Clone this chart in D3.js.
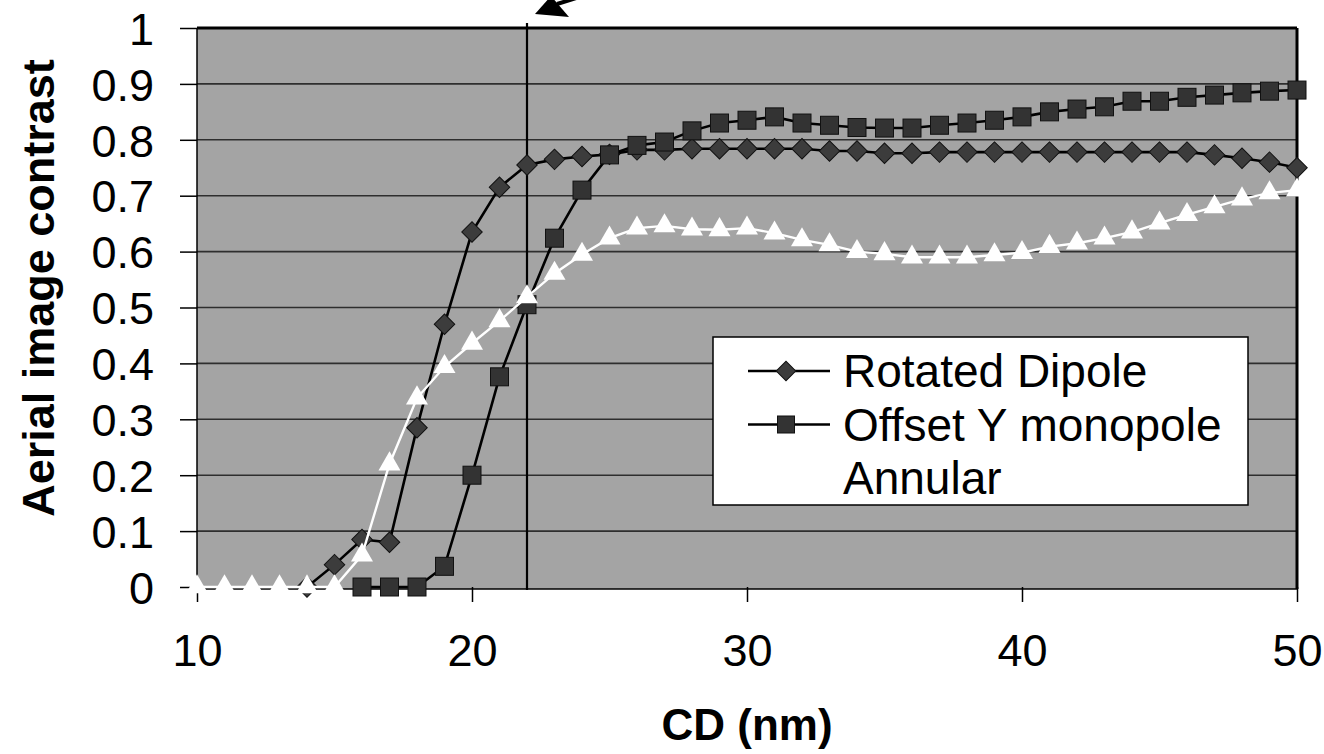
<!DOCTYPE html>
<html>
<head>
<meta charset="utf-8">
<script src="https://cdn.jsdelivr.net/npm/d3@7"></script>
<style>
  html, body { margin: 0; padding: 0; background: #fff; }
  svg { display: block; font-family: Arial, "Liberation Sans", sans-serif; }
</style>
</head>
<body>
<svg id="chart" width="1324" height="754"></svg>
<script>
// Aerial image contrast vs CD for three illumination schemes.
var dipoleX = d3.range(14, 51);
var dipole = [0, 0.04, 0.085, 0.08, 0.285, 0.47, 0.635, 0.715, 0.755, 0.765, 0.77, 0.774,
  0.782, 0.782, 0.784, 0.784, 0.784, 0.784, 0.784, 0.78, 0.78, 0.776, 0.776, 0.778,
  0.778, 0.778, 0.778, 0.778, 0.778, 0.778, 0.778, 0.778, 0.778, 0.773, 0.767, 0.76, 0.75];

var monoX = d3.range(16, 51);
var monopole = [0, 0, 0, 0.037, 0.2, 0.376, 0.505, 0.624, 0.71, 0.773, 0.79, 0.796,
  0.816, 0.83, 0.835, 0.841, 0.83, 0.826, 0.822, 0.821, 0.821, 0.826, 0.83, 0.835,
  0.841, 0.85, 0.855, 0.859, 0.869, 0.869, 0.876, 0.88, 0.884, 0.887, 0.889];

var annX = d3.range(10, 51);
var annular = [0, 0, 0, 0, 0, 0, 0.057, 0.22, 0.338, 0.394, 0.436, 0.476, 0.519, 0.561,
  0.595, 0.624, 0.642, 0.646, 0.64, 0.639, 0.642, 0.633, 0.621, 0.612, 0.6, 0.596,
  0.59, 0.59, 0.59, 0.594, 0.598, 0.609, 0.615, 0.624, 0.635, 0.651, 0.666, 0.68,
  0.694, 0.705, 0.71];

var xTicks = [10, 20, 30, 40, 50];
var yTicks = d3.range(0, 11).map(function (i) { return i / 10; });
var markerLine = 22;
var legendNames = ["Rotated Dipole", "Offset Y monopole", "Annular"];

var svg = d3.select("#chart");
var x = d3.scaleLinear().domain([10, 50]).range([197, 1297]);
var y = d3.scaleLinear().domain([0, 1]).range([587, 28]);

// plot area
svg.append("rect")
  .attr("x", x(10)).attr("y", y(1))
  .attr("width", x(50) - x(10)).attr("height", y(0) - y(1) + 2)
  .attr("fill", "#a4a4a4");

// grid
svg.append("g").selectAll("line")
  .data(yTicks.filter(function (v) { return v > 0 && v < 1; }))
  .join("line")
  .attr("x1", x(10)).attr("x2", x(50))
  .attr("y1", function (d) { return y(d); }).attr("y2", function (d) { return y(d); })
  .attr("stroke", "#2e2e2e").attr("stroke-width", 1.6);

// frame
svg.append("line").attr("x1", x(10)).attr("x2", x(50)).attr("y1", y(1)).attr("y2", y(1))
  .attr("stroke", "#000").attr("stroke-width", 3);
svg.append("line").attr("x1", x(50)).attr("x2", x(50)).attr("y1", y(1)).attr("y2", y(0) + 2)
  .attr("stroke", "#000").attr("stroke-width", 3);
svg.append("line").attr("x1", x(10)).attr("x2", x(10)).attr("y1", y(1)).attr("y2", y(0) + 2)
  .attr("stroke", "#000").attr("stroke-width", 1.5);
svg.append("line").attr("x1", x(10)).attr("x2", x(50)).attr("y1", y(0) + 2).attr("y2", y(0) + 2)
  .attr("stroke", "#000").attr("stroke-width", 1.5);

// axes
var yAxis = d3.axisLeft(y).tickValues(yTicks).tickSize(17).tickPadding(26)
  .tickFormat(function (d) { return d === 0 || d === 1 ? String(d) : d3.format(".1f")(d); });
var gy = svg.append("g").attr("transform", "translate(" + x(10) + ",0)").call(yAxis);
gy.select(".domain").remove();
gy.selectAll(".tick line").attr("stroke", "#000").attr("stroke-width", 1.5);
gy.selectAll("text").attr("font-size", 45).attr("fill", "#000").attr("dy", "0.36em")
  .attr("font-family", "Arial, 'Liberation Sans', sans-serif");

var xAxis = d3.axisBottom(x).tickValues(xTicks).tickSize(15).tickPadding(32);
var gx = svg.append("g").attr("transform", "translate(0," + y(0) + ")").call(xAxis);
gx.select(".domain").remove();
gx.selectAll(".tick line").attr("stroke", "#000").attr("stroke-width", 1.5);
gx.selectAll("text").attr("font-size", 45).attr("fill", "#000")
  .attr("font-family", "Arial, 'Liberation Sans', sans-serif");

// axis titles
svg.append("text")
  .attr("x", (x(10) + x(50)) / 2).attr("y", 740)
  .attr("text-anchor", "middle").attr("font-size", 44).attr("font-weight", "bold")
  .text("CD (nm)");
svg.append("text")
  .attr("transform", "translate(54,288) rotate(-90)")
  .attr("text-anchor", "middle").attr("font-size", 45).attr("font-weight", "bold")
  .text("Aerial image contrast");

// vertical marker at CD = 22 and arrow above it
svg.append("line")
  .attr("x1", x(markerLine)).attr("x2", x(markerLine))
  .attr("y1", y(1) - 5).attr("y2", y(0) + 3)
  .attr("stroke", "#000").attr("stroke-width", 2.2);
var ax = x(markerLine) + 8;
svg.append("path")
  .attr("d", "M" + (ax + 22) + ",4 L" + (ax + 80) + ",-14")
  .attr("stroke", "#000").attr("stroke-width", 4);
svg.append("path")
  .attr("d", "M" + ax + ",14 L" + (ax + 16) + ",-4 L" + (ax + 34) + ",17 Z")
  .attr("fill", "#000");

// series
function pts(xs, ys) { return xs.map(function (v, i) { return [v, ys[i]]; }); }
var line = d3.line().x(function (d) { return x(d[0]); }).y(function (d) { return y(d[1]); });

var dData = pts(dipoleX, dipole);
var mData = pts(monoX, monopole);
var aData = pts(annX, annular);

svg.append("path").datum(dData).attr("d", line)
  .attr("fill", "none").attr("stroke", "#000").attr("stroke-width", 2.6);
svg.append("g").selectAll("path").data(dData).join("path")
  .attr("transform", function (d) { return "translate(" + x(d[0]) + "," + y(d[1]) + ") rotate(45)"; })
  .attr("d", d3.symbol(d3.symbolSquare, 210))
  .attr("fill", "#3c3c3c").attr("stroke", "#111").attr("stroke-width", 1);

svg.append("path").datum(mData).attr("d", line)
  .attr("fill", "none").attr("stroke", "#000").attr("stroke-width", 2.6);
svg.append("g").selectAll("rect").data(mData).join("rect")
  .attr("x", function (d) { return x(d[0]) - 9; })
  .attr("y", function (d) { return y(d[1]) - 9; })
  .attr("width", 18).attr("height", 18)
  .attr("fill", "#333").attr("stroke", "#111").attr("stroke-width", 1);

svg.append("path").datum(aData).attr("d", line)
  .attr("fill", "none").attr("stroke", "#fff").attr("stroke-width", 2.4);
svg.append("g").selectAll("path").data(aData).join("path")
  .attr("transform", function (d) { return "translate(" + x(d[0]) + "," + y(d[1]) + ")"; })
  .attr("d", d3.symbol(d3.symbolTriangle, 210))
  .attr("fill", "#fff");

// legend
var lg = svg.append("g").attr("transform", "translate(713,337)");
lg.append("rect").attr("width", 535).attr("height", 168)
  .attr("fill", "#fff").attr("stroke", "#000").attr("stroke-width", 1.5);
var rows = lg.selectAll("g").data(legendNames).join("g")
  .attr("transform", function (d, i) { return "translate(0," + (34 + i * 53.5) + ")"; });
rows.append("line").attr("x1", 35).attr("x2", 117)
  .attr("stroke", function (d, i) { return i < 2 ? "#000" : "#fff"; })
  .attr("stroke-width", 2.6);
rows.filter(function (d, i) { return i === 0; }).append("path")
  .attr("transform", "translate(73,0) rotate(45)")
  .attr("d", d3.symbol(d3.symbolSquare, 190))
  .attr("fill", "#3c3c3c").attr("stroke", "#111");
rows.filter(function (d, i) { return i === 1; }).append("rect")
  .attr("x", 64.5).attr("y", -8.5).attr("width", 17).attr("height", 17)
  .attr("fill", "#333").attr("stroke", "#111");
rows.filter(function (d, i) { return i === 2; }).append("path")
  .attr("transform", "translate(73,0)")
  .attr("d", d3.symbol(d3.symbolTriangle, 190)).attr("fill", "#fff");
rows.append("text").attr("x", 130).attr("y", 16)
  .attr("font-size", 46).attr("fill", "#000").text(function (d) { return d; });
</script>
</body>
</html>
